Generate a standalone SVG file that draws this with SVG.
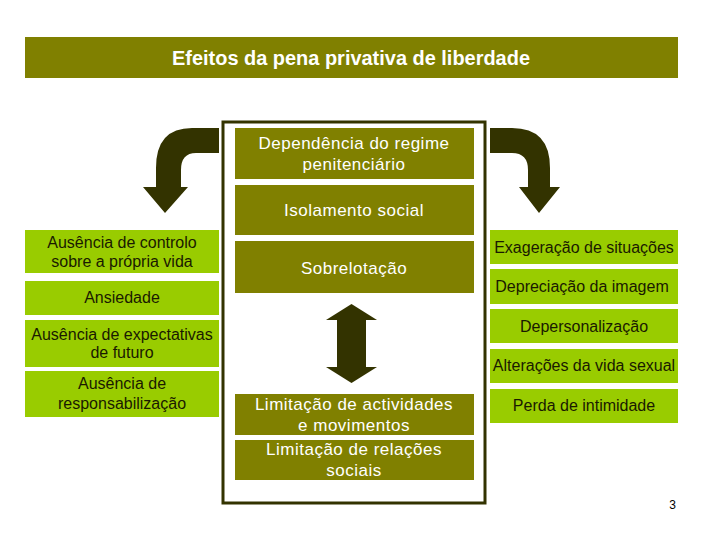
<svg xmlns="http://www.w3.org/2000/svg" width="720" height="540" viewBox="0 0 720 540">
<style>
.olive{fill:#808000}
.green{fill:#99CC00}
.dark{fill:#333300}
.tw{font-family:"Liberation Sans",Arial,sans-serif;font-size:17px;letter-spacing:0.5px;fill:#ffffff;text-anchor:middle}
.tg{font-family:"Liberation Sans",Arial,sans-serif;font-size:16px;fill:#1a1a00;text-anchor:middle}
.title{font-family:"Liberation Sans",Arial,sans-serif;font-size:20px;font-weight:bold;fill:#ffffff;text-anchor:middle}
</style>
<rect width="720" height="540" fill="#ffffff"/>
<g id="title">
<rect class="olive" x="25" y="37" width="653" height="41"/>
<text class="title" x="351" y="65" textLength="358" lengthAdjust="spacingAndGlyphs">Efeitos da pena privativa de liberdade</text>
</g>
<g id="central">
<rect x="223" y="122" width="262" height="381" fill="#ffffff" stroke="#333300" stroke-width="3"/>
</g>
<g id="dependencia">
<rect class="olive" x="235" y="128" width="239" height="51"/>
<text class="tw" x="354" y="149">Dependência do regime</text>
<text class="tw" x="354" y="170">penitenciário</text>
</g>
<g id="isolamento">
<rect class="olive" x="235" y="185" width="239" height="50"/>
<text class="tw" x="354" y="216">Isolamento social</text>
</g>
<g id="sobrelotacao">
<rect class="olive" x="235" y="241" width="239" height="52"/>
<text class="tw" x="354" y="274">Sobrelotação</text>
</g>
<g id="limitacao-actividades">
<rect class="olive" x="235" y="394" width="239" height="41"/>
<text class="tw" x="354" y="410">Limitação de actividades</text>
<text class="tw" x="354" y="431">e movimentos</text>
</g>
<g id="limitacao-relacoes">
<rect class="olive" x="235" y="440" width="239" height="40"/>
<text class="tw" x="354" y="455">Limitação de relações</text>
<text class="tw" x="354" y="476">sociais</text>
</g>
<g id="ausencia-controlo">
<rect class="green" x="25" y="230" width="194" height="43"/>
<text class="tg" x="122" y="248">Ausência de controlo</text>
<text class="tg" x="122" y="267">sobre a própria vida</text>
</g>
<g id="ansiedade">
<rect class="green" x="25" y="281" width="194" height="34"/>
<text class="tg" x="122" y="303">Ansiedade</text>
</g>
<g id="ausencia-expectativas">
<rect class="green" x="25" y="320" width="194" height="47"/>
<text class="tg" x="122" y="340">Ausência de expectativas</text>
<text class="tg" x="122" y="358">de futuro</text>
</g>
<g id="ausencia-responsabilizacao">
<rect class="green" x="25" y="371" width="194" height="46"/>
<text class="tg" x="122" y="389">Ausência de</text>
<text class="tg" x="122" y="409">responsabilização</text>
</g>
<g id="exageracao">
<rect class="green" x="490" y="230" width="188" height="34"/>
<text class="tg" x="584" y="253">Exageração de situações</text>
</g>
<g id="depreciacao">
<rect class="green" x="490" y="269" width="188" height="35"/>
<text class="tg" x="582" y="292">Depreciação da imagem</text>
</g>
<g id="despersonalizacao">
<rect class="green" x="490" y="309" width="188" height="34"/>
<text class="tg" x="584" y="332">Depersonalização</text>
</g>
<g id="alteracoes">
<rect class="green" x="490" y="349" width="188" height="34"/>
<text class="tg" x="584" y="371">Alterações da vida sexual</text>
</g>
<g id="perda">
<rect class="green" x="490" y="389" width="188" height="34"/>
<text class="tg" x="584" y="411">Perda de intimidade</text>
</g>
<g id="connectors">
<path class="dark" d="M219,128 L192,128 Q156,128 156,168 L156,187 L143,187 L165,213 L188,187 L181,187 L181,170 Q181,153 196,153 L219,153 Z"/>
<path class="dark" d="M490,128 L512,128 Q550,128 550,168 L550,187 L560,187 L539,213 L519,187 L528,187 L528,170 Q528,153 512,153 L490,153 Z"/>
<path class="dark" d="M351.5,304 L377,320 L366,320 L366,367 L377,367 L351.5,383 L326,367 L337,367 L337,320 L326,320 Z"/>
</g>
<text x="676" y="509" style="font-family:'Liberation Sans',Arial,sans-serif;font-size:12px;fill:#000000;text-anchor:end">3</text>
</svg>
